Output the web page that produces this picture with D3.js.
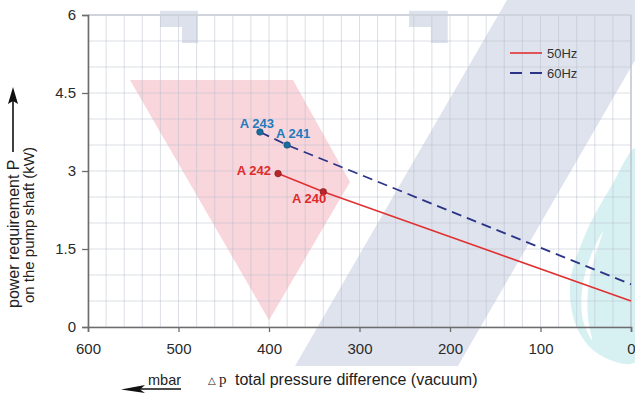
<!DOCTYPE html>
<html><head><meta charset="utf-8">
<script src="https://cdn.jsdelivr.net/npm/d3@7"></script>
<style>body{margin:0;background:#fff}svg{display:block}</style>
</head><body>
<svg id="c" width="635" height="395"></svg>
<script>
// ---- data ----
const xTicks = [600, 500, 400, 300, 200, 100, 0];
const yTicks = [0, 1.5, 3, 4.5, 6];
const seriesNames = ["50Hz", "60Hz"];
const pressure50 = [390, 340, 0];
const power50 = [2.95, 2.6, 0.5];
const pressure60 = [410, 380, 0];
const power60 = [3.75, 3.5, 0.82];
const pointNames = ["A 242", "A 240", "A 243", "A 241"];
const pointPressure = [390, 340, 410, 380];
const pointPower = [2.95, 2.6, 3.75, 3.5];
const pointSeries = [0, 0, 1, 1];
// decorative background shapes (data units: mbar, kW)
const pinkShape = [[553.6, 4.75], [373.5, 4.75], [310.5, 2.79], [400, 0.13]];
const bandShape = [[371.3, -0.75], [191.2, -0.75], [-43, 6.29], [137, 6.29]];
const lShape1 = [[520.4, 6.08], [478.5, 6.08], [478.5, 5.46], [496.1, 5.46], [496.1, 5.77], [520.4, 5.77]];
const lShape2 = [[245.3, 6.08], [202.5, 6.08], [202.5, 5.46], [221.1, 5.46], [221.1, 5.77], [245.3, 5.77]];
const cyanShape = [[-5.5, 3.44], [21, 2.73], [50.8, 1.77], [67.4, 0.81], [58.6, -0.06], [34.3, -0.54], [-5.5, -0.67], [-20, 1.5]];
const crescent = [[31, 1.83], [45.3, 1.33], [54.1, 0.71], [53, 0.13], [43.1, -0.25], [47.5, 0.17], [47.5, 0.71], [40.9, 1.29]];

// ---- layout ----
const svg = d3.select("#c");
const x = d3.scaleLinear().domain([600, 0]).range([88, 631]);
const y = d3.scaleLinear().domain([0, 6]).range([327, 15]);
const colors = ["#e03131", "#2b3486"];
const ptFill = ["#b8262a", "#1a6c9e"];
const lblColor = ["#e02a2a", "#1f7bbd"];
const font = "'Liberation Sans', Arial, sans-serif";

const poly = d3.line().x(d => x(d[0])).y(d => y(d[1]));
const blob = d3.line().x(d => x(d[0])).y(d => y(d[1])).curve(d3.curveCatmullRomClosed.alpha(0.5));

svg.append("path").attr("d", poly(bandShape) + "Z").attr("fill", "#dfe3ee");
svg.append("path").attr("d", poly(pinkShape) + "Z").attr("fill", "#f9d5dc");
svg.append("path").attr("d", poly(lShape1) + "Z").attr("fill", "#dde1ec");
svg.append("path").attr("d", poly(lShape2) + "Z").attr("fill", "#dde1ec");
svg.append("path").attr("d", blob(cyanShape)).attr("fill", "#d7f1f3");
svg.append("path").attr("d", blob(crescent)).attr("fill", "#ffffff");

// grid
const g = svg.append("g");
g.selectAll(".vg").data(d3.range(0, 601, 20)).join("line")
  .attr("x1", d => x(d)).attr("x2", d => x(d)).attr("y1", y(0)).attr("y2", y(6))
  .attr("stroke", "#b8bfcc").attr("stroke-opacity", 0.5).attr("stroke-width", 1);
g.selectAll(".hg").data(d3.range(0, 6.01, 0.5)).join("line")
  .attr("x1", x(600)).attr("x2", x(0)).attr("y1", d => y(d)).attr("y2", d => y(d))
  .attr("stroke", "#b8bfcc").attr("stroke-opacity", 0.5).attr("stroke-width", 1);
// frame top/right
svg.append("line").attr("x1", x(600)).attr("x2", x(0)).attr("y1", y(6)).attr("y2", y(6))
  .attr("stroke", "#cfd3db").attr("stroke-width", 2);
svg.append("line").attr("x1", x(0)).attr("x2", x(0)).attr("y1", y(6)).attr("y2", y(0))
  .attr("stroke", "#c3c8d0").attr("stroke-width", 1.5);

// axes
const xAxis = svg.append("g").attr("transform", `translate(0,${y(0)})`)
  .call(d3.axisBottom(x).tickValues(xTicks).tickSize(5).tickPadding(11).tickFormat(d3.format("d")));
const yAxis = svg.append("g").attr("transform", `translate(${x(600)},0)`)
  .call(d3.axisLeft(y).tickValues(yTicks).tickSize(6).tickPadding(6).tickFormat(d => String(d)));
[xAxis, yAxis].forEach(a => {
  a.select(".domain").attr("stroke", "#6d6d6d").attr("stroke-width", 1.6);
  a.selectAll(".tick line").attr("stroke", "#6d6d6d").attr("stroke-width", 1.3);
  a.selectAll(".tick text").attr("fill", "#2a2a2a").attr("font-size", 15).attr("font-family", font);
});

// series
const lineGen = d3.line().x(d => x(d[0])).y(d => y(d[1]));
const s50 = pressure50.map((p, i) => [p, power50[i]]);
const s60 = pressure60.map((p, i) => [p, power60[i]]);
svg.append("path").attr("d", lineGen(s50)).attr("fill", "none").attr("stroke", colors[0]).attr("stroke-width", 1.6);
svg.append("path").attr("d", lineGen(s60)).attr("fill", "none").attr("stroke", colors[1]).attr("stroke-width", 1.8).attr("stroke-dasharray", "10,6");

// points + labels
const lblOffset = {"A 242": [-7, 1, "end"], "A 240": [3, 11, "end"], "A 243": [14, -4, "end"], "A 241": [-11, -7, "start"]};
pointNames.forEach((n, i) => {
  const px = x(pointPressure[i]), py = y(pointPower[i]), s = pointSeries[i];
  svg.append("circle").attr("cx", px).attr("cy", py).attr("r", 3.3)
    .attr("fill", ptFill[s]).attr("stroke", s ? "#114d73" : "#7a1a1c").attr("stroke-width", 0.6);
  const o = lblOffset[n];
  svg.append("text").attr("x", px + o[0]).attr("y", py + o[1]).attr("text-anchor", o[2])
    .attr("font-family", font).attr("font-weight", "bold").attr("font-size", 13)
    .attr("fill", lblColor[s]).text(n);
});

// legend
const leg = svg.append("g");
seriesNames.forEach((n, i) => {
  const ly = 53 + i * 20;
  leg.append("line").attr("x1", 510).attr("x2", 542).attr("y1", ly).attr("y2", ly)
    .attr("stroke", colors[i]).attr("stroke-width", i ? 1.8 : 1.6)
    .attr("stroke-dasharray", i ? "12,8" : null);
  leg.append("text").attr("x", 547).attr("y", ly + 4.5).attr("font-family", font)
    .attr("font-size", 13).attr("fill", "#333").text(n);
});

// y-axis title
const yt = svg.append("g").attr("font-family", font).attr("fill", "#222");
yt.append("text").attr("transform", "translate(18.5,308) rotate(-90)").attr("font-size", 16).text("power requirement P");
yt.append("text").attr("transform", "translate(33.5,303) rotate(-90)").attr("font-size", 15).text("on the pump shaft (kW)");
svg.append("line").attr("x1", 13).attr("x2", 13).attr("y1", 152).attr("y2", 100).attr("stroke", "#111").attr("stroke-width", 1.6);
svg.append("path").attr("d", "M13,87 L8,104 L13,101 L18,104 Z").attr("fill", "#111");

// x-axis title
const xt = svg.append("g").attr("font-family", font).attr("fill", "#222");
xt.append("text").attr("x", 148).attr("y", 385).attr("font-size", 14.5).text("mbar");
svg.append("line").attr("x1", 138).attr("x2", 181).attr("y1", 389).attr("y2", 389).attr("stroke", "#111").attr("stroke-width", 1.4);
svg.append("path").attr("d", "M121,389.5 L145,385 L140,389.5 L145,393 Z").attr("fill", "#111");
xt.append("text").attr("x", 208).attr("y", 384).attr("font-size", 10).attr("font-family", "'DejaVu Sans', sans-serif").text("△");
xt.append("text").attr("x", 219).attr("y", 384).attr("font-size", 15).attr("font-family", "'Liberation Serif', serif").text("p");
xt.append("text").attr("x", 235).attr("y", 385).attr("font-size", 16).text("total pressure difference (vacuum)");
</script>
</body></html>
